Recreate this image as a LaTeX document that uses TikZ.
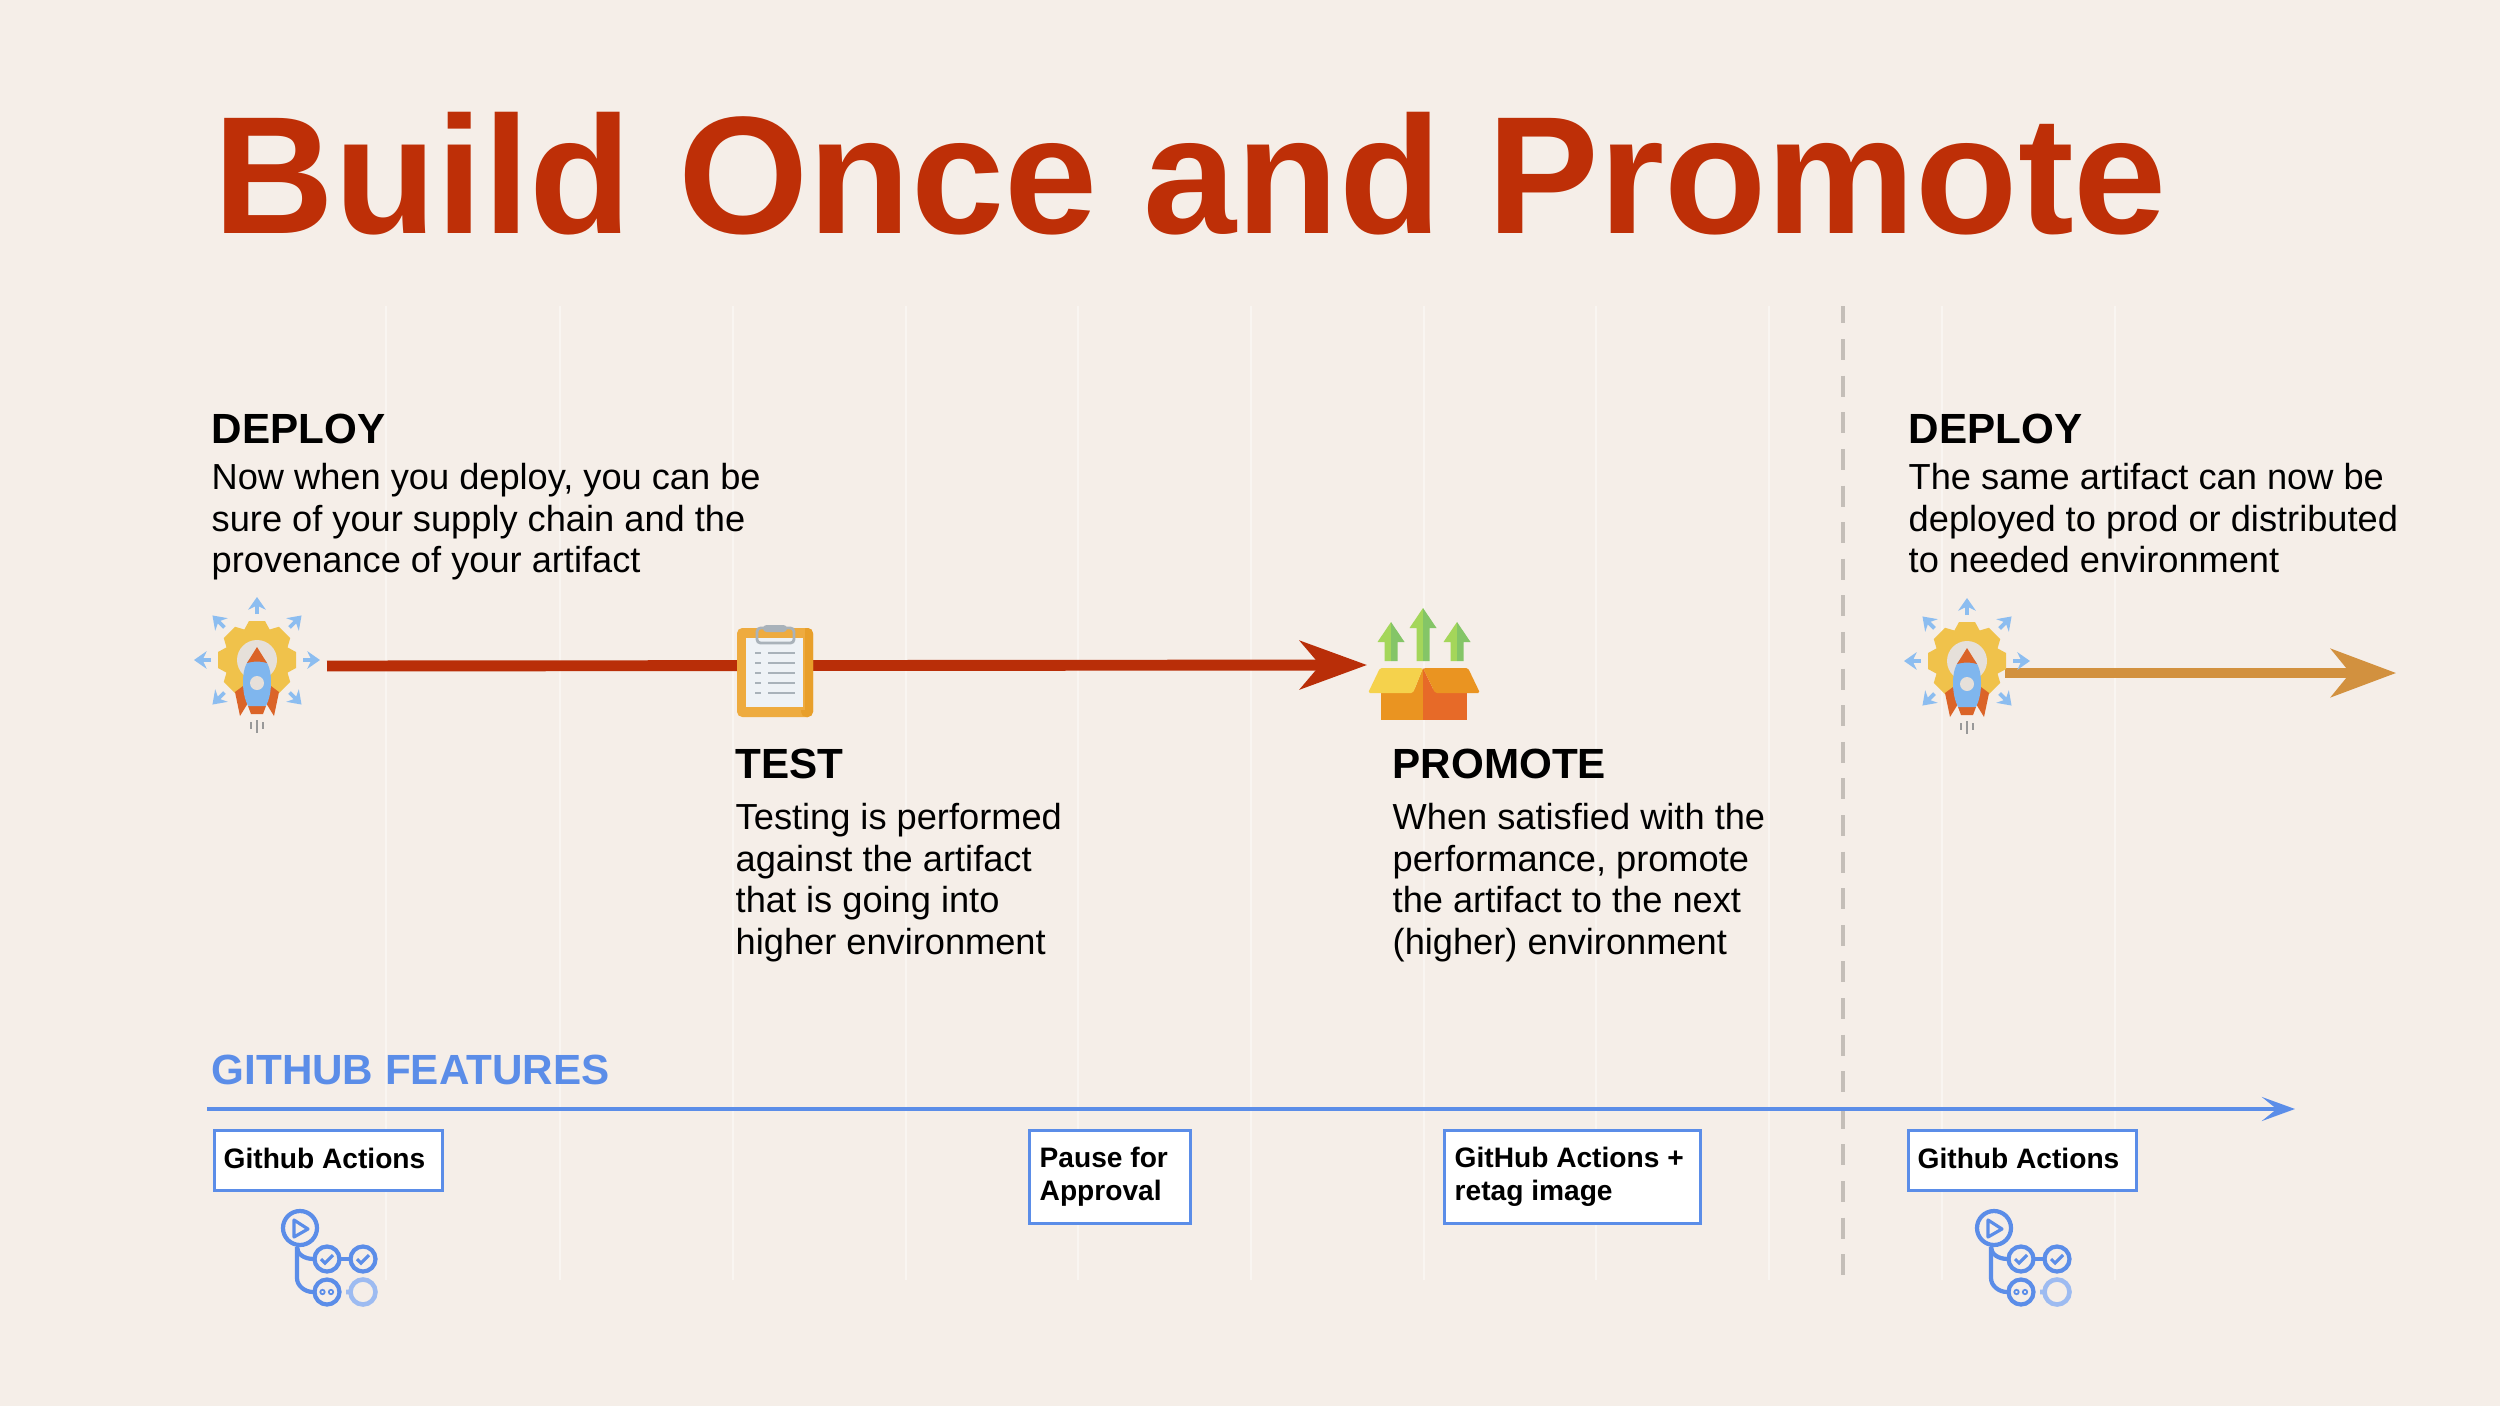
\documentclass[tikz,border=0pt]{standalone}
\usepackage{fontspec}
\setmainfont{Liberation Sans}
\usetikzlibrary{arrows.meta}
\definecolor{pagebg}{HTML}{F5EEE8}
\definecolor{gridline}{HTML}{F9F5F1}
\definecolor{titlered}{HTML}{BE2F07}
\definecolor{arrowred}{HTML}{B92E08}
\definecolor{arroworange}{HTML}{D2913F}
\definecolor{featblue}{HTML}{5B8DE8}
\definecolor{sepgray}{HTML}{C4BEB8}
\definecolor{gearyellow}{HTML}{F0C24B}
\definecolor{rocketblue}{HTML}{7FB6EE}
\definecolor{rocketred}{HTML}{DB6428}
\definecolor{clipcolor}{HTML}{EEAB3F}
\definecolor{clipdark}{HTML}{E89F2A}
\definecolor{paper}{HTML}{EEF2F6}
\definecolor{greylines}{HTML}{A9B2BA}
\definecolor{greenlight}{HTML}{A4D65A}
\definecolor{greendark}{HTML}{84C567}
\definecolor{boxyellow}{HTML}{F5D24C}
\definecolor{boxorange}{HTML}{EA9421}
\definecolor{boxred}{HTML}{E76A28}
\tikzset{
  headtext/.style={anchor=base west,inner sep=0pt,font=\bfseries\fontsize{12}{14}\selectfont},
  bodytext/.style={anchor=north west,inner sep=0pt,align=left,font=\fontsize{10.3}{11.8}\selectfont},
  featbox/.style={anchor=north west,draw=featblue,line width=0.85pt,fill=white,inner sep=0pt},
  boxtext/.style={inner sep=0pt,align=left,font=\bfseries\fontsize{8}{9.4}\selectfont},
  pics/rocketgear/.style={code={
    \foreach \a in {45,90,135,180,225,315,0}
      \draw[rotate=\a,draw=rocketblue!90,line width=1.1pt,-{Stealth[length=3.6pt,width=5pt]}] (46,0) -- (63,0);
    \foreach \a in {0,45,...,315}
      \fill[gearyellow,rotate=\a] (-8,-39) -- (8,-39) -- (14,-28) -- (-14,-28) -- cycle;
    \fill[gearyellow] (0,0) circle (32);
    \fill[black!6!pagebg] (0,0) circle (20);
    \fill[rocketred] (-22,32) -- (-17,56) -- (-9,43) -- (-14,26) -- cycle;
    \fill[rocketred] (22,32) -- (17,56) -- (9,43) -- (14,26) -- cycle;
    \fill[rocketred] (-9,46) -- (9,46) -- (6,54) -- (-6,54) -- cycle;
    \fill[rocketblue] (0,-6) .. controls (-10,-2) and (-14,8) .. (-14,22) .. controls (-14,32) and (-12,40) .. (-9,46)
      -- (9,46) .. controls (12,40) and (14,32) .. (14,22) .. controls (14,8) and (10,-2) .. (0,-6) -- cycle;
    \fill[rocketred] (0,-13) -- (10,3) .. controls (4,1) and (-4,1) .. (-10,3) -- cycle;
    \fill[black!6!pagebg] (0,23) circle (7);
    \draw[black!40,line width=0.8pt] (0,60) -- (0,73) (-6,62) -- (-6,69) (6,62) -- (6,69);
  }},
  pics/clipboard/.style={code={
    \fill[clipcolor,rounded corners=1.5pt] (0,0) rectangle (76,89);
    \fill[clipdark,rounded corners=1.5pt] (64,0) rectangle (76,89);
    \fill[clipcolor] (56,0) rectangle (68,82);
    \fill[paper] (9,10) rectangle (66,79);
    \foreach \y in {25,35,45,55,65}
      \draw[greylines,line width=0.5pt] (18,\y) -- (24,\y) (31,\y) -- (58,\y);
    \draw[greylines,line width=0.8pt,rounded corners=1pt] (20,0) -- (20,15) -- (57,15) -- (57,0) -- cycle;
    \fill[greylines,rounded corners=1pt] (26,-3) rectangle (50,4);
  }},
  pics/openbox/.style={code={
    % arrows
    \foreach \x/\t in {-32/-42,0/-56,34/-42}{
      \fill[greenlight] (\x,\t) -- (\x-13.5,\t+20) -- (\x-6.5,\t+20) -- (\x-6.5,-3) -- (\x,-3) -- cycle;
      \fill[greendark] (\x,\t) -- (\x+13.5,\t+20) -- (\x+6.5,\t+20) -- (\x+6.5,-3) -- (\x,-3) -- cycle;
    }
    % box
    \fill[boxorange] (-42,25) rectangle (0,56);
    \fill[boxred] (0,25) rectangle (44,56);
    \fill[boxorange] (0,4) -- (-10,29) -- (0,29) -- cycle;
    \fill[boxred] (0,4) -- (12,29) -- (0,29) -- cycle;
    \fill[boxyellow,rounded corners=0.5pt] (-43,4) -- (0,4) -- (-10,29) -- (-55,29) -- cycle;
    \fill[boxorange,rounded corners=0.5pt] (0,4) -- (45,4) -- (57,29) -- (12,29) -- cycle;
  }},
  pics/actionsicon/.style={code={
    \begin{scope}[featblue,line width=1.2pt]
      \draw (0,0) circle (17);
      \draw[line width=0.9pt,line join=round] (-6,-8) -- (-6,9) -- (8,1) -- cycle;
      \draw (-3,19) -- (-3,50) .. controls (-3,58) and (5,64) .. (13,64);
      \draw (-3,19) .. controls (-3,26) and (4,31) .. (14,31);
      \draw (27,31) circle (12.5) (63,31) circle (12.5) (27,64) circle (12.5);
      \draw (39,31) -- (51,31);
      \draw[line width=0.9pt] (21,31) -- (25,35) -- (33,27) (57,31) -- (61,35) -- (69,27);
      \draw[line width=0.5pt] (22.5,64) circle (2.2) (31,64) circle (2.2);
      \draw[featblue!60,line width=1.3pt] (63,64) circle (12.5) (46,64) -- (50,64);
    \end{scope}
  }},
}
\begin{document}
\begin{tikzpicture}[x=0.01cm,y=-0.01cm]
  \fill[pagebg] (0,0) rectangle (2500,1406);
  \useasboundingbox (0,0) rectangle (2500,1406);
  % grid
  \foreach \x in {386,560,733,906,1078,1251,1424,1596,1769,1942,2115}
    \draw[gridline,line width=0.8pt] (\x,306) -- (\x,1280);
  \draw[sepgray,line width=1.4pt,dash pattern=on 5.97pt off 4.44pt,dash phase=1pt] (1843,306) -- (1843,1275);
  \node[anchor=base west,inner sep=0pt,text=titlered,font=\bfseries\fontsize{47.6}{50}\selectfont] (title) at (213,233) {Build Once and Promote};
  % upper row
  \coordinate (redstart) at (327,666);
  \coordinate (redtip) at (1367,665);
  \coordinate (orangestart) at (2005,673);
  \coordinate (orangetip) at (2396,673);
  \draw[arrowred,line width=3.1pt,-{Stealth[length=19pt,width=13.7pt,inset=5.7pt]}] (redstart) -- (redtip);
  \draw[arroworange,line width=2.6pt,-{Stealth[length=18.5pt,width=13.7pt,inset=5.5pt]}] (orangestart) -- (orangetip);
  \pic (rocketA) at (257,660) {rocketgear};
  \pic (clip) at (737,628) {clipboard};
  \pic (box) at (1423,664) {openbox};
  \pic (rocketB) at (1967,661) {rocketgear};
  \node[headtext] (deployA) at (211,443) {DEPLOY};
  \node[bodytext] (deployAtext) at (211,463) {Now when you deploy, you can be\\sure of your supply chain and the\\provenance of your artifact};
  \node[headtext] (test) at (735,778) {TEST};
  \node[bodytext] (testtext) at (735,803) {Testing is performed\\against the artifact\\that is going into\\higher environment};
  \node[headtext] (promote) at (1392,778) {PROMOTE};
  \node[bodytext] (promotetext) at (1392,803) {When satisfied with the\\performance, promote\\the artifact to the next\\(higher) environment};
  \node[headtext] (deployB) at (1908,443) {DEPLOY};
  \node[bodytext] (deployBtext) at (1908,463) {The same artifact can now be\\deployed to prod or distributed\\to needed environment};
  % features
  \node[headtext,text=featblue] (features) at (211,1084) {GITHUB FEATURES};
  \coordinate (bluestart) at (207,1109);
  \coordinate (bluetip) at (2295,1109);
  \draw[featblue,line width=1.4pt,-{Stealth[length=9.4pt,width=6.8pt,inset=4.2pt]}] (bluestart) -- (bluetip);
  \node[featbox,minimum width=228*0.2845pt,minimum height=60*0.2845pt] (ghA) at (213,1129) {};
  \node[boxtext,anchor=west] (ghAtext) at (223,1158) {Github Actions};
  \node[featbox,minimum width=161*0.2845pt,minimum height=93*0.2845pt] (pause) at (1028,1129) {};
  \node[boxtext,anchor=north west] (pausetext) at (1039,1146) {Pause for\\Approval};
  \node[featbox,minimum width=256*0.2845pt,minimum height=93*0.2845pt] (retag) at (1443,1129) {};
  \node[boxtext,anchor=north west] (retagtext) at (1454,1146) {GitHub Actions +\\retag image};
  \node[featbox,minimum width=228*0.2845pt,minimum height=60*0.2845pt] (ghB) at (1907,1129) {};
  \node[boxtext,anchor=west] (ghBtext) at (1917,1158) {Github Actions};
  \pic (actionsA) at (300,1228) {actionsicon};
  \pic (actionsB) at (1994,1228) {actionsicon};
\end{tikzpicture}
\end{document}
